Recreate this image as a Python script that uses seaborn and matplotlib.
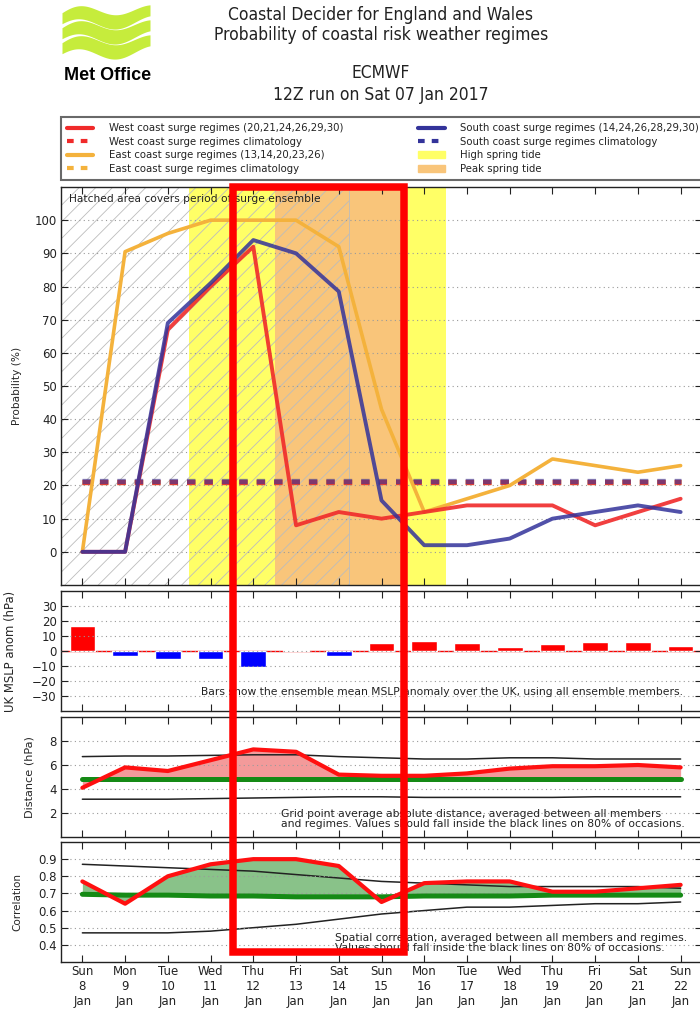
import numpy as np
import pandas as pd
import matplotlib
matplotlib.use("Agg")
import matplotlib.pyplot as plt
import seaborn as sns
from matplotlib.patches import Rectangle, Patch
from matplotlib.lines import Line2D

# ---- data ----
day_names = ['Sun', 'Mon', 'Tue', 'Wed', 'Thu', 'Fri', 'Sat', 'Sun',
             'Mon', 'Tue', 'Wed', 'Thu', 'Fri', 'Sat', 'Sun']
day_nums = [8, 9, 10, 11, 12, 13, 14, 15, 16, 17, 18, 19, 20, 21, 22]

west = [0, 0, 67, 80, 92, 8, 12, 10, 12, 14, 14, 14, 8, 12, 16]
east = [0, 90.5, 96, 100, 100, 100, 92, 43, 12, 16, 20, 28, 26, 24, 26]
south = [0, 0, 69, 81, 94, 90, 78.5, 15.5, 2, 2, 4, 10, 12, 14, 12]
west_clim = 21.0
east_clim = 21.0
south_clim = 21.5

high_tide = (2.5, 8.5)
peak_tide = (4.5, 7.45)
surge_period = (-0.5, 6.25)

mslp = [17, -3.5, -5, -5, -10.5, 1, -3.5, 5.5, 7, 5.5, 3, 4.5, 6, 6, 3.5]

dist = [4.1, 5.8, 5.5, 6.4, 7.3, 7.1, 5.2, 5.1, 5.1, 5.3, 5.7, 5.9, 5.9, 6.0, 5.8]
dist_clim = [4.85, 4.85, 4.85, 4.85, 4.85, 4.85, 4.85, 4.85, 4.85, 4.85, 4.85, 4.85, 4.85, 4.85, 4.85]
dist_hi = [6.7, 6.75, 6.75, 6.8, 6.85, 6.85, 6.7, 6.6, 6.5, 6.5, 6.6, 6.6, 6.5, 6.5, 6.5]
dist_lo = [3.15, 3.15, 3.15, 3.2, 3.25, 3.3, 3.35, 3.35, 3.3, 3.3, 3.3, 3.3, 3.35, 3.35, 3.35]

corr = [0.77, 0.64, 0.80, 0.87, 0.90, 0.90, 0.86, 0.65, 0.76, 0.77, 0.77, 0.71, 0.71, 0.73, 0.75]
corr_clim = [0.695, 0.69, 0.69, 0.685, 0.685, 0.68, 0.68, 0.68, 0.685, 0.685, 0.685, 0.69, 0.69, 0.69, 0.69]
corr_hi = [0.87, 0.86, 0.85, 0.84, 0.83, 0.81, 0.79, 0.77, 0.76, 0.75, 0.74, 0.74, 0.74, 0.74, 0.73]
corr_lo = [0.47, 0.47, 0.47, 0.48, 0.50, 0.52, 0.55, 0.58, 0.60, 0.62, 0.62, 0.63, 0.64, 0.64, 0.65]

days = np.arange(len(day_names))
df = pd.DataFrame({'day': days, 'west': west, 'east': east, 'south': south,
                   'mslp': mslp, 'dist': dist, 'dist_clim': dist_clim,
                   'dist_hi': dist_hi, 'dist_lo': dist_lo, 'corr': corr,
                   'corr_clim': corr_clim, 'corr_hi': corr_hi, 'corr_lo': corr_lo})
df['sign'] = np.where(df['mslp'] >= 0, 'pos', 'neg')

RED = '#f02a2a'
ORANGE = '#f4b23c'
BLUE = '#33339a'
YELLOW = '#ffff66'
PEACH = '#f9c57a'

sns.set_style('ticks')
plt.rcParams['font.family'] = ['DejaVu Sans']
plt.rcParams['xtick.direction'] = 'in'
plt.rcParams['ytick.direction'] = 'in'
plt.rcParams['hatch.linewidth'] = 0.6
plt.rcParams['axes.edgecolor'] = '#222222'
plt.rcParams['text.color'] = '#222222'
plt.rcParams['xtick.color'] = '#222222'
plt.rcParams['ytick.color'] = '#222222'

W, H = 700, 1009
fig = plt.figure(figsize=(W / 100, H / 100), dpi=100)


def px_axes(left, top, right, bottom):
    return fig.add_axes([left / W, 1 - bottom / H, (right - left) / W, (bottom - top) / H])


ax1 = px_axes(61, 187, 702, 585)
ax2 = px_axes(61, 591, 702, 711)
ax3 = px_axes(61, 717, 702, 837)
ax4 = px_axes(61, 842, 702, 962)

# ---- header ----
logo = fig.add_axes([62 / W, 1 - 60 / H, 88 / W, 55 / H])
xs = np.linspace(0, 1, 100)
for k in range(3):
    base = 0.64 - k * 0.30
    lower = base + 0.12 * np.sin(2 * np.pi * (xs * 1.15) + 0.3) + 0.08 * xs
    upper = lower + 0.22 + 0.07 * np.sin(np.pi * xs)
    logo.fill_between(xs, lower, upper, color='#c6ec3c', lw=0)
logo.set_xlim(0, 1)
logo.set_ylim(-0.05, 1.05)
logo.axis('off')
fig.text(64 / W, 1 - 75 / H, 'Met Office', family='Liberation Sans', weight='bold',
         fontsize=13, color='black', va='center', ha='left')

cx = 381 / W
for txt, ypx in [('Coastal Decider for England and Wales', 15),
                 ('Probability of coastal risk weather regimes', 35),
                 ('ECMWF', 73),
                 ('12Z run on Sat 07 Jan 2017', 95)]:
    fig.text(cx, 1 - ypx / H, txt, ha='center', va='center', fontsize=12.5, fontstretch='condensed')

# ---- top panel: probabilities ----
ax1.axvspan(*high_tide, color=YELLOW, lw=0, zorder=0)
ax1.axvspan(*peak_tide, color=PEACH, lw=0, zorder=0.5)
ax1.axvspan(*surge_period, facecolor='none', edgecolor='#bcbcbc', hatch='//', lw=0.6, zorder=0.8)

clim_ls = (0, (1.6, 1.7))
ax1.plot([days[0], days[-1]], [east_clim, east_clim], color=ORANGE, lw=3.8, ls=clim_ls, zorder=2)
ax1.plot([days[0], days[-1]], [west_clim, west_clim], color=RED, lw=3.8, ls=clim_ls, alpha=0.85, zorder=2)
ax1.plot([days[0], days[-1]], [south_clim, south_clim], color=BLUE, lw=3.8, ls=clim_ls, alpha=0.6, zorder=2)

sns.lineplot(data=df, x='day', y='east', color=ORANGE, lw=2.6, ax=ax1, zorder=3)
sns.lineplot(data=df, x='day', y='west', color=RED, lw=2.8, alpha=0.9, ax=ax1, zorder=3)
sns.lineplot(data=df, x='day', y='south', color=BLUE, lw=2.8, alpha=0.85, ax=ax1, zorder=3)

ax1.set_ylim(-10, 110)
ax1.set_yticks(range(0, 101, 10))
ax1.set_ylabel('Probability (%)', fontsize=7.6)
ax1.text(0.013, 0.97, 'Hatched area covers period of surge ensemble', transform=ax1.transAxes,
         fontsize=7.7, va='center', ha='left')

# ---- MSLP anomaly bars ----
sns.barplot(data=df, x='day', y='mslp', hue='sign', palette={'pos': '#ff0000', 'neg': '#0000ff'},
            dodge=False, width=0.6, errorbar=None, legend=False, saturation=1, ax=ax2, zorder=2)
ax2.axhline(0, color='#ff0000', lw=1, zorder=1)
ax2.set_ylim(-40, 40)
ax2.set_yticks(range(-30, 31, 10))
ax2.set_ylabel('UK MSLP anom (hPa)', fontsize=8.4)
ax2.text(0.97, 0.16, 'Bars show the ensemble mean MSLP anomaly over the UK, using all ensemble members.',
         transform=ax2.transAxes, fontsize=7.75, ha='right', va='center')

# ---- distance ----
ax3.fill_between(days, dist, dist_clim, color='#f07878', alpha=0.75, lw=0, zorder=1)
sns.lineplot(data=df, x='day', y='dist_hi', color='#222222', lw=1.1, ax=ax3, zorder=2)
sns.lineplot(data=df, x='day', y='dist_lo', color='#222222', lw=1.1, ax=ax3, zorder=2)
sns.lineplot(data=df, x='day', y='dist_clim', color='#158a15', lw=3.6, ax=ax3, zorder=3)
sns.lineplot(data=df, x='day', y='dist', color='#ff1010', lw=3.0, ax=ax3, zorder=4)
ax3.set_ylim(0, 10)
ax3.set_yticks([2, 4, 6, 8])
ax3.set_ylabel('Distance (hPa)', fontsize=8.1)
ax3.text(0.343, 0.15, 'Grid point average absolute distance, averaged between all members\n'
         'and regimes. Values should fall inside the black lines on 80% of occasions.',
         transform=ax3.transAxes, fontsize=7.75, ha='left', va='center', linespacing=1.0)

# ---- correlation ----
ax4.fill_between(days, corr, corr_clim, color='#3a9a3a', alpha=0.6, lw=0, zorder=1)
sns.lineplot(data=df, x='day', y='corr_hi', color='#222222', lw=1.1, ax=ax4, zorder=2)
sns.lineplot(data=df, x='day', y='corr_lo', color='#222222', lw=1.1, ax=ax4, zorder=2)
sns.lineplot(data=df, x='day', y='corr_clim', color='#158a15', lw=3.6, ax=ax4, zorder=3)
sns.lineplot(data=df, x='day', y='corr', color='#ff1010', lw=3.0, ax=ax4, zorder=4)
ax4.set_ylim(0.3, 1.0)
ax4.set_yticks([0.4, 0.5, 0.6, 0.7, 0.8, 0.9])
ax4.set_ylabel('Correlation', fontsize=7.5)
ax4.text(0.428, 0.16, 'Spatial correlation, averaged between all members and regimes.\n'
         'Values should fall inside the black lines on 80% of occasions.',
         transform=ax4.transAxes, fontsize=7.75, ha='left', va='center', linespacing=1.0)

label_x = {ax1: 22, ax2: 17, ax3: 34, ax4: 22}
for ax in (ax1, ax2, ax3, ax4):
    ax.set_xlim(-0.5, 14.5)
    ax.set_xticks(days)
    ax.set_xlabel('')
    ax.tick_params(axis='both', which='both', top=True, right=True, length=5, width=0.8,
                   labelsize=8.5, pad=3)
    ax.grid(axis='y', color='#9a9a9a', ls=(0, (1, 3)), lw=0.8)
    ax.set_axisbelow(False)
    for s in ax.spines.values():
        s.set_linewidth(1.0)
    ax.yaxis.set_label_coords((label_x[ax] - 61) / 641, 0.5)
    if ax is not ax4:
        ax.set_xticklabels([])
ax4.set_xticklabels([f'{n}\n{d}\nJan' for n, d in zip(day_names, day_nums)],
                    fontsize=8.5, linespacing=1.2)
ax4.tick_params(axis='x', pad=2.5)

# ---- legend ----
handles = [
    Line2D([], [], color=RED, lw=3),
    Line2D([], [], color=RED, lw=3, ls=clim_ls),
    Line2D([], [], color=ORANGE, lw=3),
    Line2D([], [], color=ORANGE, lw=3, ls=clim_ls),
    Line2D([], [], color=BLUE, lw=3),
    Line2D([], [], color=BLUE, lw=3, ls=clim_ls),
    Patch(color=YELLOW),
    Patch(color=PEACH),
]
labels = [
    'West coast surge regimes (20,21,24,26,29,30)',
    'West coast surge regimes climatology',
    'East coast surge regimes (13,14,20,23,26)',
    'East coast surge regimes climatology',
    'South coast surge regimes (14,24,26,28,29,30)',
    'South coast surge regimes climatology',
    'High spring tide',
    'Peak spring tide',
]
leg = fig.legend(handles, labels, ncol=2, loc='upper left', mode='expand',
                 bbox_to_anchor=(61 / W, 1 - 179 / H, 644 / W, 62 / H), borderaxespad=0,
                 fontsize=7.3, frameon=True, fancybox=False, borderpad=0.6,
                 labelspacing=0.35, handlelength=2.6, handletextpad=1.5)
leg.get_frame().set_edgecolor('#444444')
leg.get_frame().set_linewidth(1.5)

# red highlight box drawn over the chart
fig.add_artist(Rectangle((233 / W, 1 - 952 / H), (403.5 - 233) / W, (952 - 186.5) / H,
                         transform=fig.transFigure, fill=False, ec='#ff0000', lw=5.4, zorder=100))

fig.savefig('out.png', dpi=100)
